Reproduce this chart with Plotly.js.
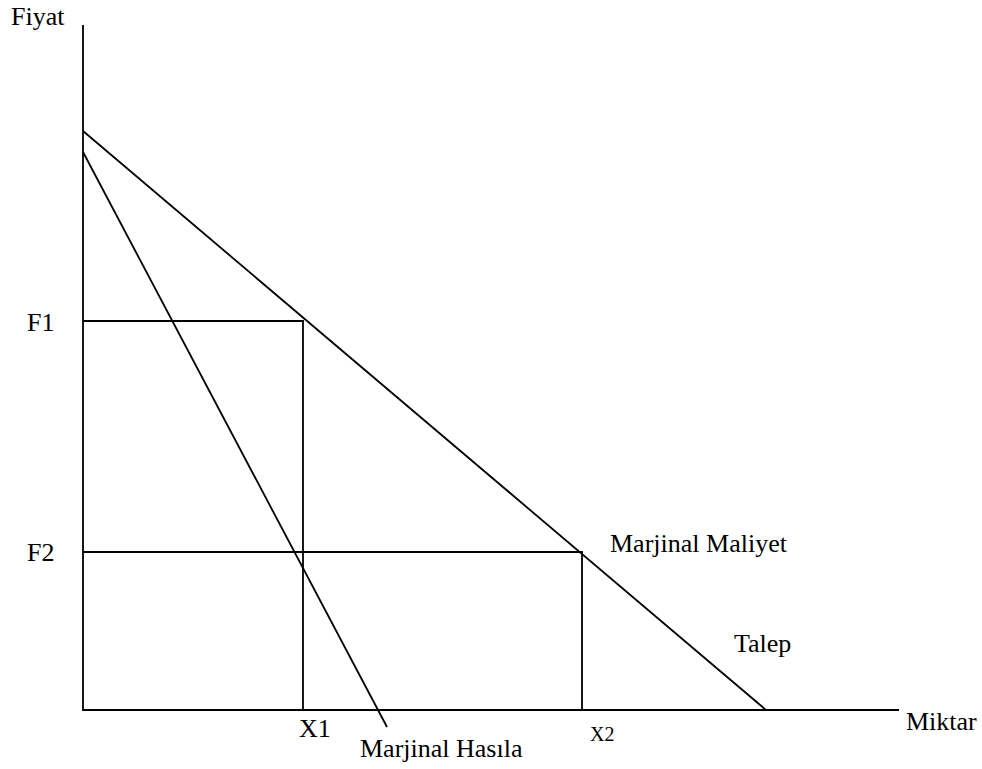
<!DOCTYPE html>
<html>
<head>
<meta charset="utf-8">
<script src="https://cdn.plot.ly/plotly-3.0.1.min.js"></script>
<style>html,body{margin:0;padding:0;background:#fff;}#chart{width:982px;height:769px;}</style>
</head>
<body>
<div id="chart"></div>
<script>
// Schematic values (quantity, price)
const axisX = [0, 0, 816];
const axisY = [685, 0, 0];
const demandX = [0, 683];
const demandY = [579, 0];
const mrX = [0, 304];
const mrY = [558, -17];
const f1Price = 389, x1Qty = 220;
const f2Price = 158, x2Qty = 499;
const labels = ["Fiyat", "F1", "F2", "X1", "X2", "Marjinal Hasıla", "Marjinal Maliyet", "Talep", "Miktar"];

const ln = {color: "#000", width: 1.8};
const traces = [
  {x: axisX, y: axisY, mode: "lines", line: ln, hoverinfo: "skip"},
  {x: demandX, y: demandY, mode: "lines", line: ln, name: "Talep"},
  {x: mrX, y: mrY, mode: "lines", line: ln, name: "Marjinal Hasıla"},
  {x: [0, x1Qty, x1Qty], y: [f1Price, f1Price, 0], mode: "lines", line: ln},
  {x: [0, x2Qty, x2Qty], y: [f2Price, f2Price, 0], mode: "lines", line: ln}
];

const fnt = {family: "Liberation Serif, Times New Roman, serif", size: 26, color: "#000"};
function ann(text, x, y, size) {
  return {text: text, x: x, y: y, xref: "x", yref: "y", showarrow: false,
          xanchor: "center", yanchor: "middle",
          font: Object.assign({}, fnt, size ? {size: size} : {})};
}
const annotations = [
  ann(labels[0], 38 - 83, 710 - 16),
  ann(labels[1], 40 - 83, 710 - 322),
  ann(labels[2], 40 - 83, 710 - 552),
  ann(labels[3], 315 - 83, 710 - 728),
  ann(labels[4], 602 - 83, 710 - 734, 20),
  ann(labels[5], 441 - 83, 710 - 748),
  ann(labels[6], 699 - 83, 710 - 543),
  ann(labels[7], 762 - 83, 710 - 643),
  ann(labels[8], 941 - 83, 710 - 721)
];

const layout = {
  width: 982, height: 769,
  margin: {l: 0, r: 0, t: 0, b: 0},
  paper_bgcolor: "#fff", plot_bgcolor: "#fff",
  showlegend: false,
  xaxis: {range: [-83, 899], visible: false, fixedrange: true},
  yaxis: {range: [-59, 710], visible: false, fixedrange: true},
  annotations: annotations
};
Plotly.newPlot("chart", traces, layout, {displayModeBar: false, staticPlot: true});
</script>
</body>
</html>
